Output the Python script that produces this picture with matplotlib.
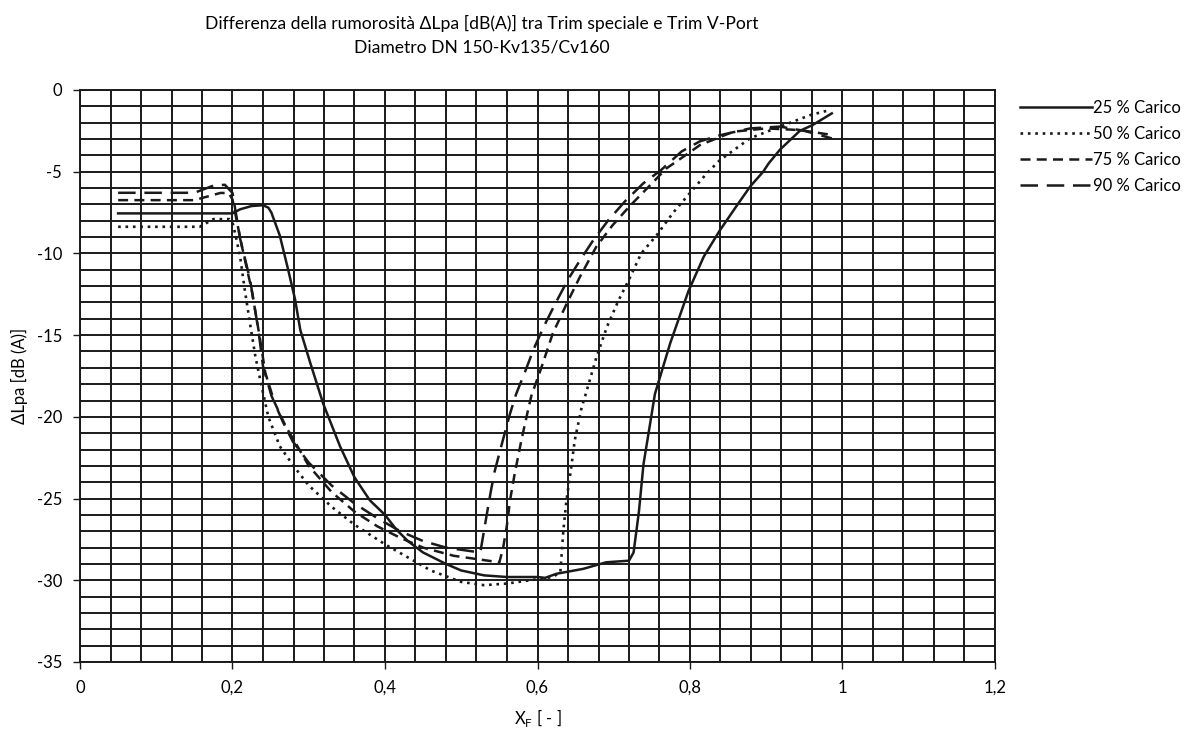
import numpy as np
import matplotlib
matplotlib.use("Agg")
import matplotlib.pyplot as plt
from matplotlib.ticker import FixedLocator

plt.rcParams['font.family'] = ['Lato', 'DejaVu Sans']

# 25 % Carico
x25 = [0.05, 0.2, 0.21, 0.225, 0.24, 0.247, 0.251, 0.262, 0.273, 0.282, 0.289, 0.302, 0.319, 0.341,
       0.36, 0.38, 0.4, 0.415, 0.43, 0.45, 0.48, 0.5, 0.53, 0.56, 0.6, 0.61, 0.625, 0.66, 0.69, 0.72,
       0.726, 0.733, 0.739, 0.746, 0.754, 0.774, 0.798, 0.818, 0.839, 0.861, 0.879, 0.896, 0.903,
       0.918, 0.944, 0.961, 0.986]
y25 = [-7.55, -7.55, -7.3, -7.1, -7.05, -7.2, -7.5, -8.9, -11.0, -12.8, -14.7, -16.7, -19.2, -21.8,
       -23.7, -25.1, -26.0, -26.9, -27.6, -28.3, -29.0, -29.4, -29.7, -29.8, -29.8, -29.85, -29.6,
       -29.3, -28.9, -28.8, -28.3, -25.8, -22.9, -20.9, -18.6, -15.5, -12.3, -10.2, -8.6, -7.1, -5.9,
       -5.0, -4.5, -3.65, -2.5, -2.14, -1.43]

# 50 % Carico
x50 = [0.05, 0.157, 0.175, 0.196, 0.2, 0.204, 0.21, 0.216, 0.223, 0.23, 0.238, 0.247, 0.262, 0.28,
       0.3, 0.33, 0.36, 0.4, 0.43, 0.46, 0.5, 0.53, 0.56, 0.59, 0.62, 0.63, 0.634, 0.638, 0.643,
       0.649, 0.658, 0.662, 0.677, 0.691, 0.706, 0.72, 0.736, 0.756, 0.778, 0.8, 0.822, 0.839, 0.879,
       0.918, 0.958, 0.984]
y50 = [-8.37, -8.37, -7.9, -7.9, -8.1, -8.9, -10.2, -12.2, -14.3, -16.3, -18.1, -20.0, -21.8, -23.0,
       -24.2, -25.5, -26.6, -27.8, -28.6, -29.4, -30.1, -30.3, -30.2, -30.0, -29.8, -29.5, -26.9,
       -25.1, -23.5, -21.4, -19.4, -18.8, -16.4, -14.5, -12.9, -11.6, -10.0, -8.9, -7.5, -6.3, -5.1,
       -4.3, -2.95, -2.24, -1.53, -1.22]

# 75 % Carico
x75 = [0.05, 0.15, 0.184, 0.195, 0.2, 0.212, 0.225, 0.236, 0.243, 0.255, 0.27, 0.284, 0.3, 0.33,
       0.36, 0.39, 0.42, 0.45, 0.49, 0.52, 0.55, 0.555, 0.56, 0.564, 0.57, 0.579, 0.588, 0.592,
       0.605, 0.62, 0.638, 0.656, 0.677, 0.698, 0.721, 0.742, 0.769, 0.8, 0.813, 0.857, 0.9, 0.944,
       0.986]
y75 = [-6.74, -6.74, -6.3, -6.3, -6.7, -9.5, -12.2, -15.2, -17.3, -19.1, -20.6, -21.7, -23.0, -24.6,
       -25.8, -26.7, -27.4, -28.0, -28.5, -28.7, -28.9, -28.0, -26.6, -25.1, -23.5, -21.4, -19.5,
       -18.7, -17.0, -14.9, -13.1, -11.4, -9.6, -8.3, -7.1, -6.1, -4.8, -3.8, -3.37, -2.55, -2.35,
       -2.45, -2.75]

# 90 % Carico
x90 = [0.05, 0.15, 0.175, 0.19, 0.2, 0.21, 0.223, 0.234, 0.24, 0.251, 0.266, 0.279, 0.3, 0.33, 0.36,
       0.39, 0.42, 0.45, 0.48, 0.51, 0.525, 0.533, 0.539, 0.544, 0.553, 0.564, 0.572, 0.584, 0.595,
       0.608, 0.623, 0.64, 0.656, 0.673, 0.693, 0.715, 0.739, 0.762, 0.789, 0.813, 0.84, 0.879,
       0.918, 0.95, 0.986]
y90 = [-6.29, -6.29, -5.85, -5.8, -6.3, -9.1, -11.6, -14.7, -16.9, -18.7, -20.3, -21.5, -22.8,
       -24.2, -25.3, -26.2, -27.0, -27.6, -28.0, -28.2, -28.3, -26.1, -24.5, -23.3, -21.7, -19.8,
       -18.6, -17.2, -15.85, -14.5, -13.1, -11.6, -10.4, -9.2, -7.96, -6.8, -5.7, -4.9, -3.76, -3.14,
       -2.76, -2.35, -2.24, -2.5, -2.96]

labels = ['25 % Carico', '50 % Carico', '75 % Carico', '90 % Carico']
xticks = [0, 0.2, 0.4, 0.6, 0.8, 1.0, 1.2]
xticklabels = ['0', '0,2', '0,4', '0,6', '0,8', '1', '1,2']
yticks = [0, -5, -10, -15, -20, -25, -30, -35]

fig = plt.figure(figsize=(12.04, 7.35), dpi=100)
ax = fig.add_axes([80 / 1204, 1 - 662 / 735, 915 / 1204, 572 / 735])

# grid: every 0.04 on x, every 1 dB on y
for gx in np.arange(0, 1.2001, 0.04):
    ax.axvline(gx, color='#1a1a1a', lw=1.4, zorder=1)
for gy in np.arange(-35, 0.001, 1):
    ax.axhline(gy, color='#1a1a1a', lw=1.4, zorder=1)

lc = '#1a1a1a'
ax.plot(x25, y25, color=lc, lw=1.8, ls='-', label=labels[0], zorder=3)
ax.plot(x50, y50, color=lc, lw=1.9, ls=(0, (1, 1.8)), label=labels[1], zorder=3)
ax.plot(x75, y75, color=lc, lw=1.8, ls=(0, (4, 2.5)), label=labels[2], zorder=3)
ax.plot(x90, y90, color=lc, lw=1.8, ls=(0, (7, 3.5)), label=labels[3], zorder=3)

ax.set_xlim(0, 1.2)
ax.set_ylim(-35, 0)
ax.xaxis.set_major_locator(FixedLocator(xticks))
ax.set_xticklabels(xticklabels)
ax.yaxis.set_major_locator(FixedLocator(yticks))
ax.set_yticklabels([str(v) for v in yticks])
ax.tick_params(axis='both', labelsize=12, length=5, width=1, direction='out', color='#1a1a1a', pad=8)
for s in ax.spines.values():
    s.set_color('#1a1a1a')
    s.set_linewidth(1.4)

ax.set_xlabel('X$_\\mathregular{F}$ [ - ]', fontsize=12, labelpad=8)
ax.set_ylabel('\u0394Lpa [dB (A)]', fontsize=12, labelpad=6)

fig.text(0.40, 0.968, 'Differenza della rumorosità \u0394Lpa [dB(A)] tra Trim speciale e Trim V-Port',
         ha='center', va='center', fontsize=12.6)
fig.text(0.40, 0.936, 'Diametro DN 150-Kv135/Cv160', ha='center', va='center', fontsize=12.6)

ax.legend(loc='upper left', bbox_to_anchor=(1.02, 0.995), frameon=False, fontsize=12,
          handlelength=4.3, handletextpad=0.1, labelspacing=0.6, borderaxespad=0)

fig.savefig('out.png', dpi=100)
